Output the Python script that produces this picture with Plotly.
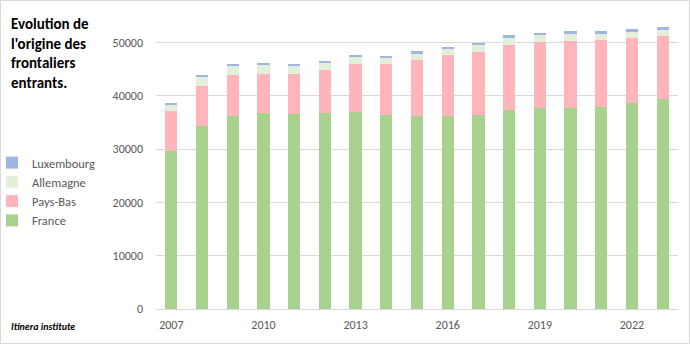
import plotly.graph_objects as go

years = [str(y) for y in range(2007, 2024)]
france = [29700, 34340, 36300, 36700, 36600, 36700, 37000, 36400, 36300, 36300, 36500, 37300, 37700, 37800, 37900, 38700, 39500]
pays_bas = [7400, 7610, 7550, 7400, 7600, 8100, 8900, 9600, 10500, 11300, 11800, 12300, 12450, 12500, 12600, 12100, 11760]
allemagne = [1300, 1750, 1700, 1630, 1500, 1400, 1500, 1260, 1200, 1200, 1200, 1260, 1260, 1390, 1200, 1190, 1130]
luxembourg = [350, 260, 380, 380, 320, 310, 320, 310, 370, 450, 440, 500, 440, 440, 440, 510, 500]
tick_years = ["2007", "2010", "2013", "2016", "2019", "2022"]
y_ticks = [0, 10000, 20000, 30000, 40000, 50000]

W_FIG, H_FIG = 690, 344
L, R, T, B = 156, 12, 16, 35
PW, PH = W_FIG - L - R, H_FIG - T - B

def px(x):
    return (x - L) / PW

def py(y):
    return (H_FIG - B - y) / PH

FONT = "Carlito, Lato, Liberation Sans, sans-serif"
GRAY = "#595959"

fig = go.Figure()
fig.add_bar(x=years, y=france, name="France", marker=dict(color="#A9D18E", line_width=0))
fig.add_bar(x=years, y=pays_bas, name="Pays-Bas", marker=dict(color="#FFB5BA", line_width=0))
fig.add_bar(x=years, y=allemagne, name="Allemagne", marker=dict(color="#E2F0D9", line_width=0))
fig.add_bar(x=years, y=luxembourg, name="Luxembourg", marker=dict(color="#9FB6E3", line_width=0))

fig.update_layout(
    width=W_FIG, height=H_FIG,
    margin=dict(l=L, r=R, t=T, b=B, autoexpand=False),
    barmode="stack", bargap=0.6,
    plot_bgcolor="white", paper_bgcolor="white",
    font=dict(family=FONT, size=12, color=GRAY),
    showlegend=True,
    legend=dict(
        x=px(-8), y=py(148), xanchor="left", yanchor="top",
        traceorder="reversed", font=dict(size=12.5, color=GRAY),
        bgcolor="rgba(0,0,0,0)", itemwidth=30, tracegroupgap=0,
    ),
    xaxis=dict(
        type="category", tickmode="array", tickvals=tick_years, ticktext=tick_years,
        showgrid=False, showline=True, linecolor="#D9D9D9", linewidth=1,
        ticks="", tickfont=dict(size=12, color=GRAY), ticklabelstandoff=5,
    ),
    yaxis=dict(
        range=[0, 55000], tickvals=y_ticks, tickformat="d",
        showgrid=True, gridcolor="#D9D9D9", gridwidth=1, zeroline=False,
        showline=False, ticks="", tickfont=dict(size=12, color=GRAY), ticklabelstandoff=12,
    ),
)

fig.add_annotation(
    xref="paper", yref="paper", x=px(9), y=py(13), xanchor="left", yanchor="top",
    text="<b>Evolution de<br>l'origine des<br>frontaliers<br>entrants.</b>",
    showarrow=False, align="left", font=dict(family=FONT, size=15, color="black"),
)
fig.add_annotation(
    xref="paper", yref="paper", x=px(9), y=py(326), xanchor="left", yanchor="middle",
    text="<b><i>Itinera institute</i></b>",
    showarrow=False, align="left", font=dict(family=FONT, size=10, color="black"),
)
fig.add_shape(
    type="rect", xref="paper", yref="paper",
    x0=px(0.5), x1=px(W_FIG - 0.5), y0=py(H_FIG - 0.5), y1=py(0.5),
    line=dict(color="#D9D9D9", width=1), fillcolor="rgba(0,0,0,0)", layer="below",
)

fig.write_html("out.html")
